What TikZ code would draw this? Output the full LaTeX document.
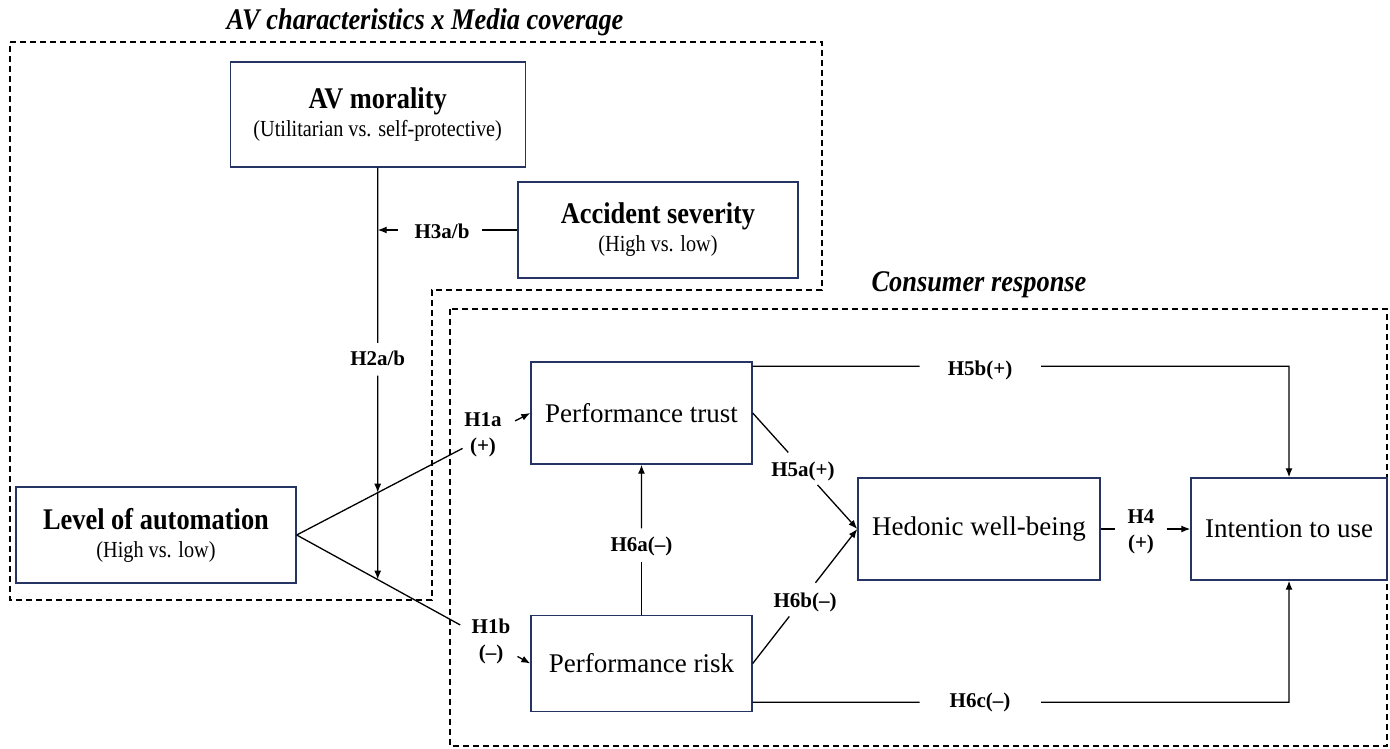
\documentclass[tikz,border=0pt]{standalone}
\usepackage{fontspec}
\setmainfont{Liberation Serif}
\newfontfamily\condfont[FakeStretch=0.88]{Liberation Serif}
\usetikzlibrary{arrows.meta,calc}
\definecolor{boxblue}{RGB}{38,52,99}
\begin{document}
\begin{tikzpicture}[x=1pt,y=-1pt,
  box/.style={draw=boxblue,line width=1.4pt,inner sep=0pt,align=center},
  bigbox/.style={box,font=\condfont\fontsize{23}{28}\selectfont},
  plainbox/.style={box,font=\fontsize{27}{30}\selectfont},
  conn/.style={line width=1.3pt},
  arr/.style={line width=1.3pt,-{Latex[length=9pt,width=7pt]}},
  dashframe/.style={dash pattern=on 6pt off 4pt,line width=1.1pt},
  hyp/.style={font=\fontsize{21}{26}\selectfont\bfseries,align=center,inner sep=0pt},
  grouptitle/.style={font=\condfont\fontsize{30}{30}\selectfont\bfseries\itshape,inner sep=0pt}]
\useasboundingbox (0,0) rectangle (1390,748);

% group frames
\draw[dashframe] (10,42) -- (822,42) -- (822,290) -- (432,290) -- (432,600) -- (10,600) -- cycle;
\draw[dashframe] (450,309) rectangle (1387,746);
\node[grouptitle] (t1) at (425,22) {AV characteristics x Media coverage};
\node[grouptitle] (t2) at (979,285) {Consumer response};

% boxes
\node[bigbox,minimum width=295pt,minimum height=105pt] (mor) at (377.7,114.5)
  {{\fontsize{30}{28}\selectfont\bfseries AV morality}\\(Utilitarian vs. self-protective)};
\node[bigbox,minimum width=280pt,minimum height=96pt] (sev) at (658,230)
  {{\fontsize{30}{28}\selectfont\bfseries Accident severity}\\(High vs. low)};
\node[bigbox,minimum width=280pt,minimum height=96pt] (loa) at (156,535)
  {{\fontsize{30}{28}\selectfont\bfseries Level of automation}\\(High vs. low)};
\node[plainbox,minimum width=221pt,minimum height=102pt] (pt) at (641.5,413) {Performance trust};
\node[plainbox,minimum width=221pt,minimum height=96pt] (pr) at (641.5,663.5) {Performance risk};
\node[plainbox,minimum width=242pt,minimum height=102pt] (hw) at (979,529) {Hedonic well-being};
\node[plainbox,minimum width=196pt,minimum height=102pt] (int) at (1289,529) {Intention to use};

% H1a / H1b
\draw[conn] (loa.east) -- ($(loa.east)!0.71!(pt.west)$);
\draw[arr] ($(loa.east)!0.935!(pt.west)$) -- (pt.west);
\draw[conn] (loa.east) -- ($(loa.east)!0.70!(pr.west)$);
\draw[arr] ($(loa.east)!0.945!(pr.west)$) -- (pr.west);
\node[hyp] (h1a) at (483,434.5) {H1a\\(+)};
\node[hyp] (h1b) at (491,641.5) {H1b\\(--)};

% H2a/b moderation
\coordinate (c1) at (intersection of loa.east--pt.west and mor.south--mor.north);
\coordinate (c2) at (intersection of loa.east--pr.west and mor.south--mor.north);
\draw[conn] (mor.south) -- ($(mor.south)!0.425!(c2)$);
\draw[arr] ($(mor.south)!0.505!(c2)$) -- (c1);
\draw[arr] (c1) -- (c2);
\node[hyp] (h2) at (377.7,358) {H2a/b};

% H3a/b
\coordinate (c3) at (mor.south |- sev.west);
\draw[conn] (sev.west) -- ($(sev.west)!0.25!(c3)$);
\draw[arr] ($(sev.west)!0.855!(c3)$) -- (c3);
\node[hyp] (h3) at (442,231) {H3a/b};

% H6a
\draw[conn] (pr.north) -- ($(pr.north)!0.35!(pt.south)$);
\draw[arr] ($(pr.north)!0.576!(pt.south)$) -- (pt.south);
\node[hyp] (h6a) at (641.5,546) {H6a(--)};

% H5a / H6b
\draw[conn] (pt.east) -- ($(pt.east)!0.34!(hw.west)$);
\draw[arr] ($(pt.east)!0.62!(hw.west)$) -- (hw.west);
\node[hyp] (h5a) at (803,471) {H5a(+)};
\draw[conn] (pr.east) -- ($(pr.east)!0.35!(hw.west)$);
\draw[arr] ($(pr.east)!0.60!(hw.west)$) -- (hw.west);
\node[hyp] (h6b) at (805,602) {H6b(--)};

% H4
\draw[conn] (hw.east) -- ($(hw.east)!0.165!(int.west)$);
\draw[arr] ($(hw.east)!0.736!(int.west)$) -- (int.west);
\node[hyp] (h4) at (1141,531.5) {H4\\(+)};

% H5b
\coordinate (p1) at ($(pt.north east)+(0,5)$);
\coordinate (p2) at (int.north |- p1);
\draw[conn] (p1) -- ($(p1)!0.311!(p2)$);
\draw[arr] ($(p1)!0.538!(p2)$) -- (p2) -- (int.north);
\node[hyp] (h5b) at (980,370) {H5b(+)};

% H6c
\coordinate (p3) at ($(pr.south east)+(0,-10)$);
\coordinate (p4) at (int.south |- p3);
\draw[conn] (p3) -- ($(p3)!0.311!(p4)$);
\draw[arr] ($(p3)!0.538!(p4)$) -- (p4) -- (int.south);
\node[hyp] (h6c) at (980,702) {H6c(--)};
\end{tikzpicture}
\end{document}
